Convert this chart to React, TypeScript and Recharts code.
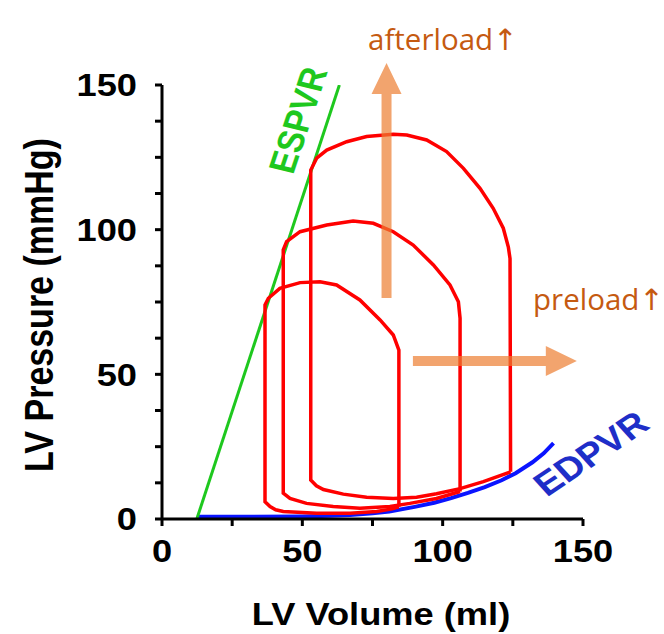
import React from 'react';
import {
  ComposedChart,
  Line,
  XAxis,
  YAxis,
  ReferenceLine,
  ReferenceDot,
  Label,
} from 'recharts';

// ---- data ----
const volumeTicks = [0, 25, 50, 75, 100, 125, 150];
const pressureTicks = [0, 12.5, 25, 37.5, 50, 62.5, 75, 87.5, 100, 112.5, 125, 137.5, 150];
const labeledTicks = [0, 50, 100, 150];

const espvr = [
  { v: 12.4, p: 0 },
  { v: 63.2, p: 150 },
];

const edpvr = [
  { v: 12.5, p: 0.8 },
  { v: 30, p: 0.8 },
  { v: 50, p: 0.9 },
  { v: 60, p: 1.1 },
  { v: 67, p: 1.4 },
  { v: 75, p: 2.0 },
  { v: 81, p: 2.6 },
  { v: 90, p: 4.2 },
  { v: 97, p: 5.6 },
  { v: 103, p: 7.2 },
  { v: 109, p: 9.0 },
  { v: 115, p: 11.0 },
  { v: 121, p: 13.4 },
  { v: 126, p: 15.8 },
  { v: 132, p: 19.6 },
  { v: 136, p: 22.7 },
  { v: 139.5, p: 26.2 },
];

const loopSmall = [
  { v: 84.4, p: 4.2 },
  { v: 84.4, p: 58.4 },
  { v: 82.4, p: 63.6 },
  { v: 77.7, p: 68.8 },
  { v: 70.5, p: 75.7 },
  { v: 62.2, p: 80.9 },
  { v: 56.3, p: 82.0 },
  { v: 49.2, p: 81.7 },
  { v: 42.0, p: 79.7 },
  { v: 37.9, p: 76.3 },
  { v: 36.7, p: 74.0 },
  { v: 36.7, p: 6.0 },
  { v: 38.5, p: 4.3 },
  { v: 40.5, p: 3.2 },
  { v: 43.2, p: 2.6 },
  { v: 55.1, p: 2.0 },
  { v: 67.0, p: 2.0 },
  { v: 76.5, p: 2.6 },
  { v: 82.0, p: 3.5 },
  { v: 84.4, p: 4.2 },
];

const loopMedium = [
  { v: 106.2, p: 9.5 },
  { v: 106.2, p: 69.4 },
  { v: 105.6, p: 75.1 },
  { v: 102.6, p: 80.9 },
  { v: 96.7, p: 87.8 },
  { v: 89.5, p: 94.7 },
  { v: 82.4, p: 99.3 },
  { v: 75.3, p: 102.2 },
  { v: 68.1, p: 103.0 },
  { v: 58.7, p: 101.6 },
  { v: 49.2, p: 99.3 },
  { v: 44.4, p: 95.9 },
  { v: 43.2, p: 93.0 },
  { v: 43.2, p: 8.9 },
  { v: 45.6, p: 7.1 },
  { v: 51.5, p: 5.4 },
  { v: 61.0, p: 4.3 },
  { v: 70.5, p: 3.7 },
  { v: 81.2, p: 4.3 },
  { v: 88.3, p: 5.4 },
  { v: 97.8, p: 7.1 },
  { v: 106.2, p: 9.5 },
];

const loopLarge = [
  { v: 124.2, p: 16.3 },
  { v: 124.0, p: 90.0 },
  { v: 123.4, p: 94.0 },
  { v: 121.6, p: 100.5 },
  { v: 118.0, p: 107.4 },
  { v: 113.3, p: 114.3 },
  { v: 107.4, p: 121.2 },
  { v: 101.4, p: 127.0 },
  { v: 94.3, p: 131.0 },
  { v: 87.2, p: 132.7 },
  { v: 82.4, p: 133.0 },
  { v: 72.9, p: 132.2 },
  { v: 65.8, p: 130.4 },
  { v: 58.7, p: 127.5 },
  { v: 55.1, p: 124.7 },
  { v: 53.0, p: 120.6 },
  { v: 53.0, p: 13.5 },
  { v: 55.0, p: 11.5 },
  { v: 57.5, p: 10.2 },
  { v: 64.6, p: 8.6 },
  { v: 72.9, p: 7.5 },
  { v: 82.4, p: 7.1 },
  { v: 90.7, p: 7.5 },
  { v: 97.8, p: 8.7 },
  { v: 106.2, p: 10.5 },
  { v: 114.5, p: 12.9 },
  { v: 124.2, p: 16.3 },
];

const afterloadArrow = [
  { x: 80, y: 76.4 },
  { x: 80, y: 157.6 },
];
const preloadArrow = [
  { x: 89.4, y: 54.6 },
  { x: 147.8, y: 54.6 },
];

const espvrLabel = { v: 48.3, p: 137.9, text: 'ESPVR' };
const edpvrLabel = { v: 152.7, p: 22.8, text: 'EDPVR' };
const afterloadLabel = { v: 73.4, p: 162.1, text: 'afterload\u2191' };
const preloadLabel = { v: 132.2, p: 72.2, text: 'preload\u2191' };

// ---- styles ----
const AXIS_FONT = '"Liberation Sans", Arial, sans-serif';
const STRETCH = 1.17;
const ANNOT_FONT = '"Open Sans", "DejaVu Sans", sans-serif';

const renderYTick = (props: any) => {
  const { y, payload } = props;
  const val = payload && payload.value;
  if (!labeledTicks.includes(val)) return <g />;
  return (
    <g transform={`translate(137,${y})`}>
      <text
        transform={`scale(${STRETCH},1)`}
        textAnchor="end"
        dy="0.36em"
        fontFamily={AXIS_FONT}
        fontWeight="bold"
        fontSize={31}
        fill="#000"
      >
        {String(val)}
      </text>
    </g>
  );
};

const renderXTick = (props: any) => {
  const { x, y, payload } = props;
  const val = payload && payload.value;
  if (!labeledTicks.includes(val)) return <g />;
  return (
    <g transform={`translate(${x},${y + 35.5})`}>
      <text
        transform={`scale(${STRETCH},1)`}
        textAnchor="middle"
        fontFamily={AXIS_FONT}
        fontWeight="bold"
        fontSize={31}
        fill="#000"
      >
        {String(val)}
      </text>
    </g>
  );
};

const xAxisTitle = (props: any) => {
  const vb = props.viewBox || { x: 162, y: 519, width: 421, height: 115 };
  const cx = vb.x + vb.width / 2 + 8.5;
  const by = vb.y + 106;
  return (
    <g transform={`translate(${cx},${by})`}>
      <text
        transform={`scale(${STRETCH},1)`}
        textAnchor="middle"
        fontFamily={AXIS_FONT}
        fontWeight="bold"
        fontSize={31}
        fill="#000"
      >
        LV Volume (ml)
      </text>
    </g>
  );
};

const yAxisTitle = (props: any) => {
  const vb = props.viewBox || { x: 0, y: 85, width: 162, height: 434 };
  const cy = vb.y + vb.height / 2 + 3;
  return (
    <g transform={`translate(52.5,${cy}) scale(${STRETCH},1) rotate(-90)`}>
      <text
        textAnchor="middle"
        fontFamily={AXIS_FONT}
        fontWeight="bold"
        fontSize={34}
        fill="#000"
      >
        LV Pressure (mmHg)
      </text>
    </g>
  );
};

const rotatedText =
  (text: string, angle: number, color: string, size: number) => (props: any) => {
    const { cx, cy } = props;
    return (
      <g transform={`translate(${cx},${cy}) scale(${STRETCH},1) rotate(${angle})`}>
        <text
          textAnchor="middle"
          dy="0.36em"
          fontFamily={AXIS_FONT}
          fontWeight="bold"
          fontSize={size}
          fill={color}
        >
          {text}
        </text>
      </g>
    );
  };

const plainText = (text: string) => (props: any) => {
  const { cx, cy } = props;
  return (
    <text
      x={cx}
      y={cy}
      textAnchor="start"
      fontFamily={ANNOT_FONT}
      fontSize={29.5}
      fill="#C55A11"
    >
      {text}
    </text>
  );
};

const arrowShape = (props: any) => {
  const { x1, y1, x2, y2 } = props;
  const dx = x2 - x1;
  const dy = y2 - y1;
  const len = Math.hypot(dx, dy) || 1;
  const ux = dx / len;
  const uy = dy / len;
  const nx = -uy;
  const ny = ux;
  const head = 31;
  const hw = 15;
  const sw = 5;
  const bx = x2 - ux * head;
  const by = y2 - uy * head;
  const pts = [
    [x1 + nx * sw, y1 + ny * sw],
    [bx + nx * sw, by + ny * sw],
    [bx + nx * hw, by + ny * hw],
    [x2, y2],
    [bx - nx * hw, by - ny * hw],
    [bx - nx * sw, by - ny * sw],
    [x1 - nx * sw, y1 - ny * sw],
  ]
    .map((p) => `${p[0]},${p[1]}`)
    .join(' ');
  return <polygon points={pts} fill="#ED7D31" fillOpacity={0.7} stroke="none" />;
};

const RED_W = 3.5;

export default function App() {
  return (
    <div style={{ position: 'absolute', left: 0, top: 0, background: '#fff' }}>
      <ComposedChart
        width={664}
        height={634}
        margin={{ top: 85, right: 81, left: 0, bottom: 0 }}
      >
        <XAxis
          dataKey="v"
          type="number"
          domain={[0, 150]}
          ticks={volumeTicks}
          interval={0}
          height={115}
          tickSize={7}
          tickMargin={0}
          axisLine={{ stroke: '#000', strokeWidth: 3 }}
          tickLine={{ stroke: '#000', strokeWidth: 3 }}
          tick={renderXTick}
          allowDataOverflow
        >
          <Label content={xAxisTitle} />
        </XAxis>
        <YAxis
          dataKey="p"
          type="number"
          domain={[0, 150]}
          ticks={pressureTicks}
          interval={0}
          width={162}
          tickSize={7}
          tickMargin={0}
          axisLine={{ stroke: '#000', strokeWidth: 3 }}
          tickLine={{ stroke: '#000', strokeWidth: 3 }}
          tick={renderYTick}
          allowDataOverflow
        >
          <Label content={yAxisTitle} />
        </YAxis>

        <Line
          data={edpvr}
          dataKey="p"
          type="linear"
          stroke="#0a14ff"
          strokeWidth={4}
          dot={false}
          activeDot={false}
          isAnimationActive={false}
        />
        <Line
          data={espvr}
          dataKey="p"
          type="linear"
          stroke="#1ec81e"
          strokeWidth={3}
          dot={false}
          activeDot={false}
          isAnimationActive={false}
        />
        <Line
          data={loopSmall}
          dataKey="p"
          type="linear"
          stroke="#ff0000"
          strokeWidth={RED_W}
          dot={false}
          activeDot={false}
          isAnimationActive={false}
        />
        <Line
          data={loopMedium}
          dataKey="p"
          type="linear"
          stroke="#ff0000"
          strokeWidth={RED_W}
          dot={false}
          activeDot={false}
          isAnimationActive={false}
        />
        <Line
          data={loopLarge}
          dataKey="p"
          type="linear"
          stroke="#ff0000"
          strokeWidth={RED_W}
          dot={false}
          activeDot={false}
          isAnimationActive={false}
        />

        <ReferenceLine
          segment={afterloadArrow}
          ifOverflow="visible"
          shape={arrowShape}
        />
        <ReferenceLine
          segment={preloadArrow}
          ifOverflow="visible"
          shape={arrowShape}
        />

        <ReferenceDot
          x={espvrLabel.v}
          y={espvrLabel.p}
          ifOverflow="visible"
          shape={rotatedText(espvrLabel.text, -74, '#1ec81e', 32)}
        />
        <ReferenceDot
          x={edpvrLabel.v}
          y={edpvrLabel.p}
          ifOverflow="visible"
          shape={rotatedText(edpvrLabel.text, -38, '#1e2ec8', 33)}
        />
        <ReferenceDot
          x={afterloadLabel.v}
          y={afterloadLabel.p}
          ifOverflow="visible"
          shape={plainText(afterloadLabel.text)}
        />
        <ReferenceDot
          x={preloadLabel.v}
          y={preloadLabel.p}
          ifOverflow="visible"
          shape={plainText(preloadLabel.text)}
        />
      </ComposedChart>
    </div>
  );
}
